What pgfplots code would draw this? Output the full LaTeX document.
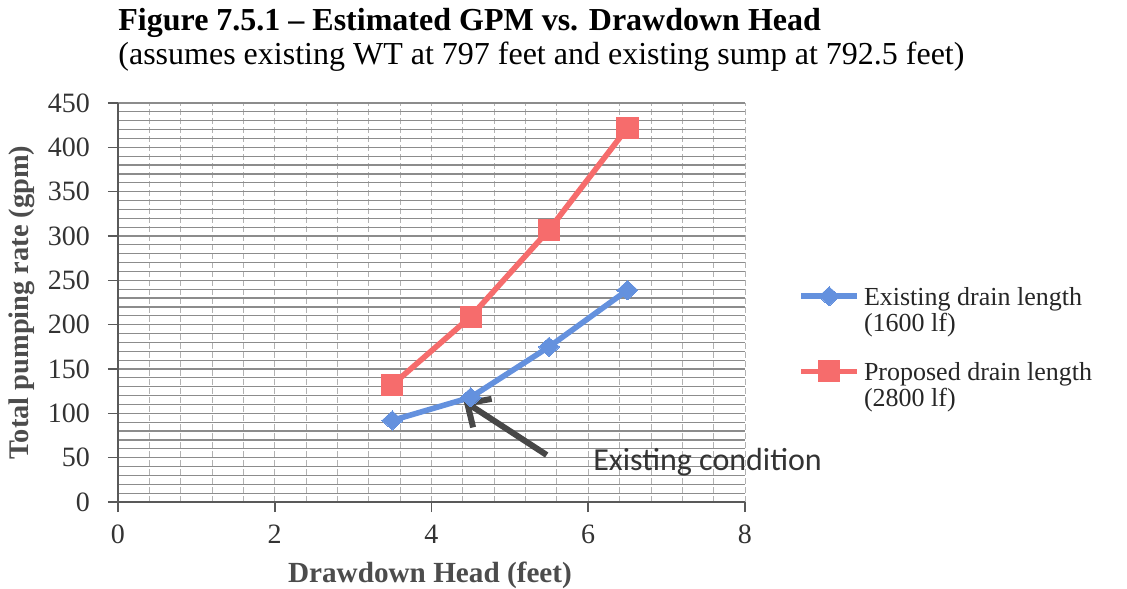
\documentclass[border=0pt]{standalone}
\usepackage{pgfplots}
\pgfplotsset{compat=1.18}
\usepackage{fontspec}
\setmainfont{Liberation Serif}
\newfontfamily\calibri{Carlito}
\usetikzlibrary{arrows.meta}
\definecolor{sblue}{RGB}{100,145,222}
\definecolor{sred}{RGB}{246,108,108}
\begin{document}
\begin{tikzpicture}[x=1pt,y=1pt]
\useasboundingbox (0,0) rectangle (563.5,294);
\node[anchor=base west, inner sep=0, font=\fontsize{16}{18}\selectfont\bfseries] at (59,278.5) {Figure 7.5.1 – Estimated GPM vs. Drawdown Head};
\node[anchor=base west, inner sep=0, font=\fontsize{16}{18}\selectfont] at (59,261.5) {(assumes existing WT at 797 feet and existing sump at 792.5 feet)};
\begin{axis}[
  at={(59pt,43pt)}, anchor=south west,
  scale only axis, width=313.5pt, height=199.5pt,
  clip=false,
  xmin=0, xmax=8, ymin=0, ymax=450,
  xtick={0,2,4,6,8}, ytick={0,50,...,450},
  minor x tick num=4, minor y tick num=4,
  axis x line*=bottom, axis y line*=left,
  axis line style={black!65, line width=0.8pt, -},
  tick align=outside, major tick length=5pt, minor tick length=0pt,
  tick style={black!65, line width=0.8pt},
  xmajorgrids, xminorgrids, ymajorgrids, yminorgrids,
  major x grid style={black!30, line width=0.4pt, dash pattern=on 3pt off 1.5pt},
  minor x grid style={black!30, line width=0.4pt, dash pattern=on 3pt off 1.5pt},
  major y grid style={black!45, line width=0.6pt},
  minor y grid style={black!45, line width=0.6pt},
  /pgf/number format/assume math mode=true,
  tick label style={font=\fontsize{14}{16}\selectfont, text=black!80},
  yticklabel style={xshift=-5.5pt},
  xticklabel style={yshift=-3pt},
  xlabel={Drawdown Head (feet)},
  ylabel={Total pumping rate (gpm)},
  label style={text=black!70},
  xlabel style={font=\bfseries\fontsize{14.6}{16}\selectfont, at={(axis description cs:0.4976,-0.2005)}, anchor=base},
  ylabel style={font=\bfseries\fontsize{14.2}{16}\selectfont, at={(axis description cs:-0.153,0.50)}, anchor=center},
  legend style={at={(axis description cs:1.075,0.558)}, anchor=north west, draw=none, fill=none,
    font=\fontsize{13}{13}\selectfont, text=black!85,
    nodes={align=left}, row sep=10pt},
  legend cell align=left,
  legend image code/.code={\draw[mark repeat=2, mark phase=2, yshift=7.5pt] plot coordinates {(0pt,0pt)(14pt,0pt)(28pt,0pt)};},
]
\addplot[sblue, line width=2.8pt, mark=diamond*, mark size=4.8pt, mark options={solid, xscale=1.45, fill=sblue, draw=sblue, line width=0pt}]
  coordinates {(3.5,92)(4.5,118)(5.5,175)(6.5,239)};
\addlegendentry{Existing drain length\\(1600 lf)}
\addplot[sred, line width=2.8pt, mark=square*, mark size=5.3pt, mark options={solid, fill=sred, draw=sred, line width=0pt}]
  coordinates {(3.5,132)(4.5,209)(5.5,307)(6.5,422)};
\addlegendentry{Proposed drain length\\(2800 lf)}
\draw[-{Straight Barb[length=9pt,width=17pt]}, line width=3pt, black!72] (axis cs:5.47,53) -- (axis cs:4.41,114);
\node[anchor=base west, inner sep=0, font=\calibri\fontsize{16}{18}\selectfont, text=black!80] at (axis cs:6.06,36) {Existing condition};
\end{axis}
\end{tikzpicture}
\end{document}
